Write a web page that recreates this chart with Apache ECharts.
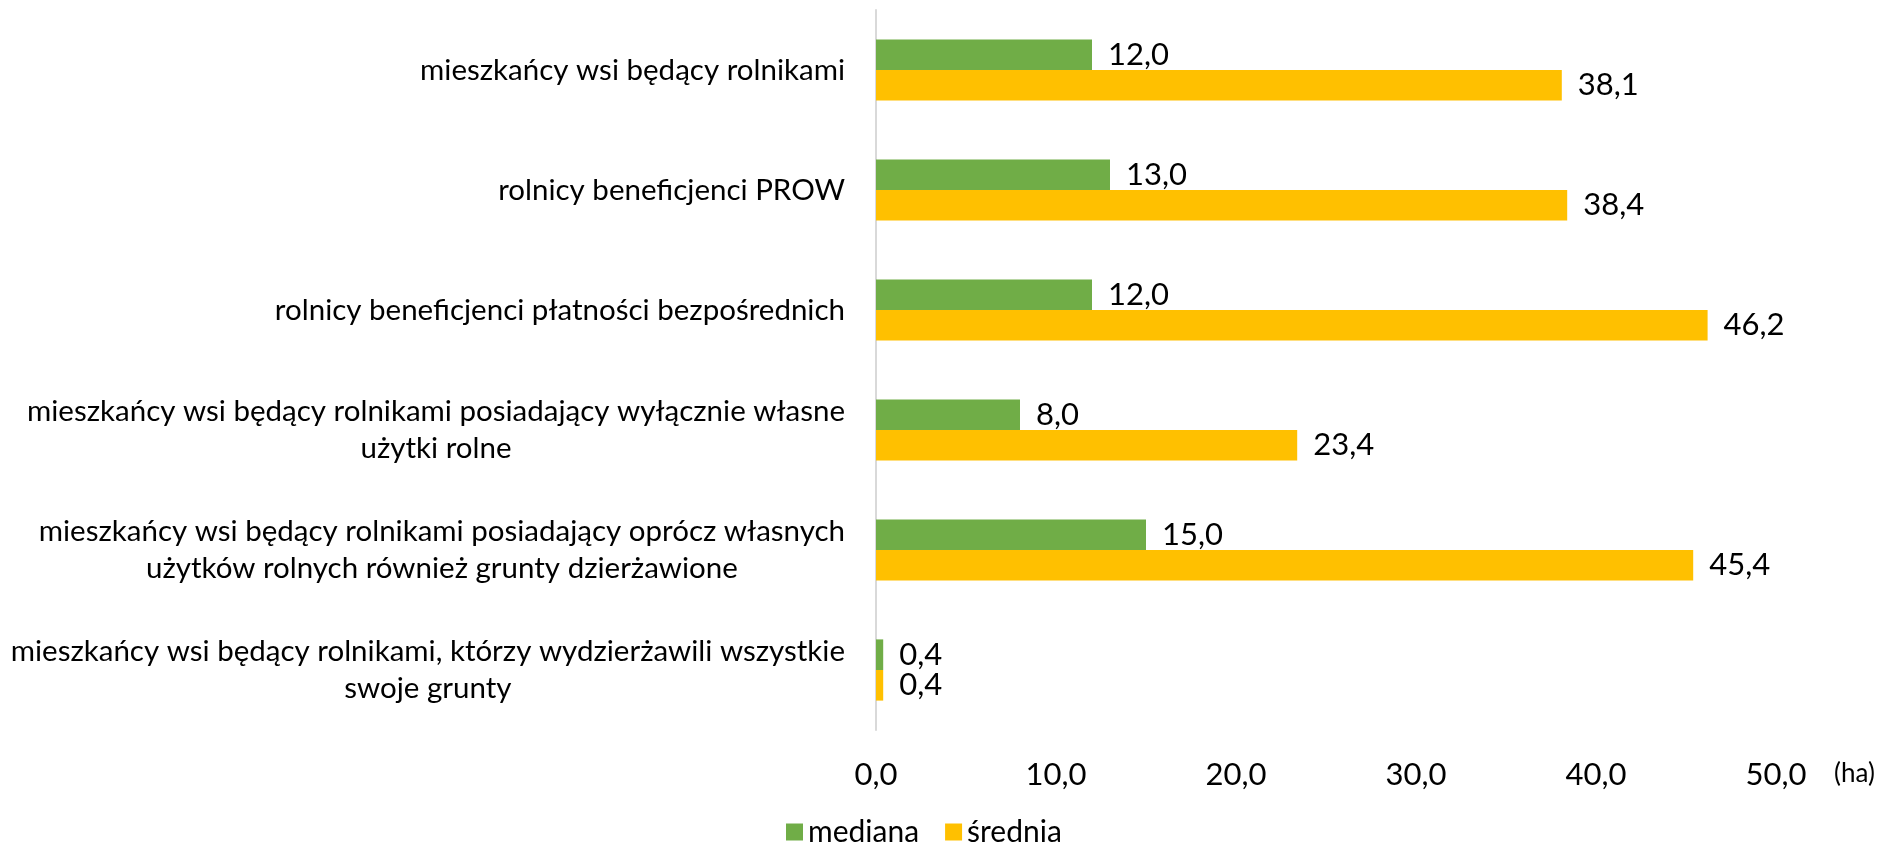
<!DOCTYPE html>
<html>
<head>
<meta charset="utf-8">
<script src="https://cdn.jsdelivr.net/npm/echarts@6/dist/echarts.min.js"></script>
<style>
  html, body { margin: 0; padding: 0; background: #fff; }
  #chart { width: 1880px; height: 845px; }
</style>
</head>
<body>
<div id="chart"></div>
<script>
// categories, top to bottom
const categories = [
  'mieszkańcy wsi będący rolnikami',
  'rolnicy beneficjenci PROW',
  'rolnicy beneficjenci płatności bezpośrednich',
  'mieszkańcy wsi będący rolnikami posiadający wyłącznie własne\nużytki rolne',
  'mieszkańcy wsi będący rolnikami posiadający oprócz własnych\nużytków rolnych również grunty dzierżawione',
  'mieszkańcy wsi będący rolnikami, którzy wydzierżawili wszystkie\nswoje grunty'
]
const mediana = [12.0, 13.0, 12.0, 8.0, 15.0, 0.4]
const srednia = [38.1, 38.4, 46.2, 23.4, 45.4, 0.4]
const seriesNames = ['mediana', 'średnia']

const FONT = 'Lato'
const fmt = v => v.toFixed(1).replace('.', ',')

const chart = echarts.init(document.getElementById('chart'))

chart.setOption({
  animation: false,
  textStyle: { fontFamily: FONT },
  grid: {
    left: 876,
    right: 104,
    top: 10,
    bottom: 115,
    containLabel: false,
    outerBoundsMode: 'none'
  },
  legend: {
    data: seriesNames,
    left: 781,
    top: 812,
    itemWidth: 17,
    itemHeight: 17,
    itemGap: 26,
    icon: 'rect',
    textStyle: { fontFamily: FONT, fontSize: 30, color: '#000' }
  },
  xAxis: {
    type: 'value',
    min: 0,
    max: 50,
    interval: 10,
    name: '(ha)',
    nameLocation: 'end',
    nameGap: 58,
    nameTextStyle: {
      fontFamily: FONT, fontSize: 26, color: '#000',
      verticalAlign: 'top', padding: [31, 0, 0, 0]
    },
    axisLine: { show: false },
    axisTick: { show: false },
    splitLine: { show: false },
    axisLabel: {
      margin: 29,
      fontSize: 31,
      color: '#000',
      formatter: v => fmt(v)
    }
  },
  yAxis: {
    type: 'category',
    inverse: true,
    data: categories,
    axisLine: { show: true, lineStyle: { color: '#d9d9d9', width: 2 } },
    axisTick: { show: false },
    axisLabel: {
      margin: 31,
      fontSize: 29.5,
      color: '#000',
      lineHeight: 37,
      formatter: v => '{c|' + v.split('\n').join('}\n{c|') + '}',
      rich: {
        c: { align: 'center', fontSize: 29.5, fontFamily: FONT, color: '#000', lineHeight: 37 }
      }
    }
  },
  series: [
    {
      name: seriesNames[0],
      type: 'bar',
      data: mediana,
      barGap: '0%',
      barCategoryGap: '49%',
      itemStyle: { color: '#70AD47' },
      label: {
        show: true,
        position: 'right',
        distance: 16,
        fontSize: 31,
        color: '#000',
        formatter: p => fmt(p.value)
      }
    },
    {
      name: seriesNames[1],
      type: 'bar',
      data: srednia,
      barGap: '0%',
      barCategoryGap: '49%',
      itemStyle: { color: '#FFC000' },
      label: {
        show: true,
        position: 'right',
        distance: 16,
        fontSize: 31,
        color: '#000',
        formatter: p => fmt(p.value)
      }
    }
  ]
})
</script>
</body>
</html>
